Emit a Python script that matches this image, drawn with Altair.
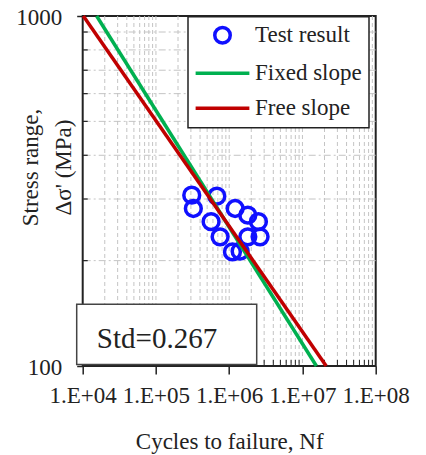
import altair as alt
import pandas as pd

# ---- data ----
cycles = [3.08e5, 3.24e5, 6.78e5, 5.66e5, 7.51e5, 1.205e6, 1.795e6, 2.506e6, 1.795e6, 2.64e6, 1.107e6, 1.41e6]
stress = [307.7, 281.8, 305.6, 258.4, 233.9, 281.8, 269.7, 258.4, 233.9, 233.9, 211.8, 212.8]

fixed_N = [1.55e4, 1.55e7]
fixed_S = [1000, 100]
free_N = [1.02e4, 2.11e7]
free_S = [1000, 100]

series_names = ["Test result", "Fixed slope", "Free slope"]
series_colors = ["#1010ff", "#00b050", "#c00000"]
series_shapes = ["circle", "M-3.47,0H3.47", "M-3.47,0H3.47"]

x_major = [1e4, 1e5, 1e6, 1e7, 1e8]
x_minor = [2e4, 3e4, 4e4, 5e4, 6e4, 7e4, 8e4, 9e4,
           2e5, 3e5, 4e5, 5e5, 6e5, 7e5, 8e5, 9e5,
           2e6, 3e6, 4e6, 5e6, 6e6, 7e6, 8e6, 9e6,
           2e7, 3e7, 4e7, 5e7, 6e7, 7e7, 8e7, 9e7]
x_grid = [1e5, 1e6, 1e7] + x_minor
y_major = [100, 1000]
y_minor = [200, 300, 400, 500, 600, 700, 800, 900]
std_value = [0.267]

FONT = "Liberation Serif"
INK = "#222222"
W, H = 293, 350

df_pts = pd.DataFrame({"N": cycles, "S": stress, "series": "Test result"})
df_lines = pd.concat([
    pd.DataFrame({"N": fixed_N, "S": fixed_S, "series": "Fixed slope"}),
    pd.DataFrame({"N": free_N, "S": free_S, "series": "Free slope"}),
])
df_xgrid = pd.DataFrame({"g": x_grid})
df_xminor = pd.DataFrame({"t": x_minor})
df_yminor = pd.DataFrame({"t": y_minor})
df_std = pd.DataFrame({"std": std_value})

xscale = alt.Scale(type="log", domain=[1e4, 1e8])
yscale = alt.Scale(type="log", domain=[100, 1000])
color_scale = alt.Scale(domain=series_names, range=series_colors)
shape_scale = alt.Scale(domain=series_names, range=series_shapes)

x_axis = alt.Axis(
    values=x_major,
    labelExpr="'1.E+0' + round(log(datum.value)/LN10)",
    title="Cycles to failure, Nf",
    grid=False, domain=False,
    tickSize=8, tickWidth=1.5, tickColor=INK,
    labelFont=FONT, labelFontSize=23, labelColor=INK,
    labelBaseline="alphabetic", labelPadding=28.3,
    labelFlush=False, labelOverlap=False,
    titleFont=FONT, titleFontSize=23, titleFontWeight="normal", titleColor=INK,
    titleBaseline="alphabetic", titleY=82.3,
)
y_axis = alt.Axis(
    values=y_major, format="d",
    title=["Stress range,", "Δσ' (MPa)"],
    grid=False, domain=False,
    tickSize=6, tickWidth=1.5, tickColor=INK,
    labelFont=FONT, labelFontSize=23, labelColor=INK,
    labelBaseline="middle", labelPadding=15, labelFlush=False, labelOffset=1.5,
    titleFont=FONT, titleFontSize=23, titleFontWeight="normal", titleColor=INK,
    titleAngle=270, titleAlign="center", titleBaseline="alphabetic",
    titleLineHeight=32, titleX=-44.7, titleY=151,
)

legend = alt.Legend(
    title=None, orient="none", legendX=105.3, legendY=0.7, direction="vertical",
    fillColor="white", strokeColor=INK, padding=7, rowPadding=11,
    symbolOffset=16, labelOffset=21, symbolSize=240, symbolStrokeWidth=3.5,
    labelFont=FONT, labelFontSize=23, labelColor=INK, labelLimit=400,
)

vgrid = alt.Chart(df_xgrid).mark_rule(stroke="#c4c4c4", strokeWidth=1, strokeDash=[4, 3]).encode(
    x=alt.X("g:Q", scale=xscale, axis=x_axis)
)
hgrid = alt.Chart(pd.DataFrame({"g": y_minor})).mark_rule(stroke="#c4c4c4", strokeWidth=1, strokeDash=[7, 3, 2, 3]).encode(
    y=alt.Y("g:Q", scale=yscale, axis=y_axis)
)
xminor = alt.Chart(df_xminor).mark_rule(stroke=INK, strokeWidth=1).encode(
    x=alt.X("t:Q", scale=xscale, axis=x_axis), y=alt.value(H), y2=alt.value(H - 6)
)
yminor = alt.Chart(df_yminor).mark_rule(stroke=INK, strokeWidth=1.2).encode(
    y=alt.Y("t:Q", scale=yscale, axis=y_axis), x=alt.value(0), x2=alt.value(5)
)
points = alt.Chart(df_pts).mark_point(filled=False, size=250, strokeWidth=3.5, opacity=1).encode(
    x=alt.X("N:Q", scale=xscale, axis=x_axis),
    y=alt.Y("S:Q", scale=yscale, axis=y_axis),
    color=alt.Color("series:N", scale=color_scale, legend=legend),
    shape=alt.Shape("series:N", scale=shape_scale, legend=legend),
)
lines = alt.Chart(df_lines).mark_line(strokeWidth=3.5).encode(
    x=alt.X("N:Q", scale=xscale, axis=x_axis),
    y=alt.Y("S:Q", scale=yscale, axis=y_axis),
    color=alt.Color("series:N", scale=color_scale, legend=None),
)
stdbox = alt.Chart(df_std).mark_rect(fill="white", stroke="#444444", strokeWidth=1.5).encode(
    x=alt.value(-6), x2=alt.value(174), y=alt.value(288.3), y2=alt.value(348.5)
)
stdtext = alt.Chart(df_std).transform_calculate(
    label="'Std=' + format(datum.std, '.3f')"
).mark_text(font=FONT, fontSize=29, color=INK, align="center", baseline="alphabetic").encode(
    x=alt.value(74.3), y=alt.value(332.3), text="label:N"
)

chart = alt.layer(vgrid, hgrid, xminor, yminor, points, lines, stdbox, stdtext).properties(
    width=W, height=H,
    autosize=alt.AutoSizeParams(type="none"),
    padding={"left": 74.7, "top": 8, "right": 42.3, "bottom": 95},
).configure_view(stroke=INK, strokeWidth=2).configure_legend(strokeWidth=1.5)

chart.save("out.html", embed_options={"renderer": "svg", "actions": False})
